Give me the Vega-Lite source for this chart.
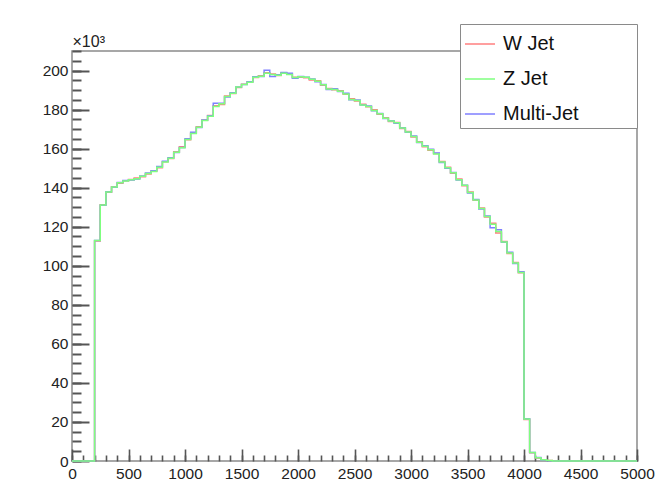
{
"$schema": "https://vega.github.io/schema/vega-lite/v6.json",
"width": 565, "height": 410,
"autosize": {"type": "none"},
"padding": {"left": 72, "top": 51, "right": 29, "bottom": 22},
"background": "white",
"config": {
  "font": "Liberation Sans",
  "view": {"stroke": "#8a8a8a", "strokeWidth": 1.5},
  "axis": {"grid": false, "labelFont": "Liberation Sans", "labelFontSize": 15.5, "labelColor": "#222"}
},
"data": {"values": [
{"x":0,"W":0,"Z":0,"M":0},{"x":50,"W":0,"Z":0,"M":0},{"x":100,"W":0,"Z":0,"M":0},{"x":150,"W":0,"Z":0,"M":0},
{"x":200,"W":112700,"Z":112900,"M":113000},
{"x":250,"W":131300,"Z":131100,"M":131000},
{"x":300,"W":137600,"Z":137800,"M":137900},
{"x":350,"W":140500,"Z":140300,"M":140200},
{"x":400,"W":142300,"Z":142500,"M":142700},
{"x":450,"W":143600,"Z":143400,"M":143700},
{"x":500,"W":144200,"Z":144000,"M":143900},
{"x":550,"W":144900,"Z":144600,"M":144500},
{"x":600,"W":145600,"Z":145800,"M":146000},
{"x":650,"W":147000,"Z":147200,"M":147500},
{"x":700,"W":148500,"Z":148300,"M":148700},
{"x":750,"W":150200,"Z":150500,"M":150900},
{"x":800,"W":153300,"Z":153100,"M":153500},
{"x":850,"W":154900,"Z":155100,"M":155300},
{"x":900,"W":158400,"Z":158200,"M":158000},
{"x":950,"W":160900,"Z":160400,"M":160600},
{"x":1000,"W":164500,"Z":164700,"M":165000},
{"x":1050,"W":167900,"Z":167800,"M":168400},
{"x":1100,"W":171200,"Z":171000,"M":170800},
{"x":1150,"W":174700,"Z":174400,"M":174600},
{"x":1200,"W":177000,"Z":176600,"M":176800},
{"x":1250,"W":182000,"Z":181600,"M":183200},
{"x":1300,"W":182600,"Z":183000,"M":183200},
{"x":1350,"W":186900,"Z":186700,"M":186500},
{"x":1400,"W":188200,"Z":188400,"M":188600},
{"x":1450,"W":191300,"Z":191500,"M":191600},
{"x":1500,"W":193000,"Z":192800,"M":192900},
{"x":1550,"W":194200,"Z":194000,"M":194300},
{"x":1600,"W":196400,"Z":196600,"M":196800},
{"x":1650,"W":197300,"Z":197100,"M":197000},
{"x":1700,"W":198800,"Z":198600,"M":200200},
{"x":1750,"W":198200,"Z":198000,"M":197000},
{"x":1800,"W":197400,"Z":197600,"M":197800},
{"x":1850,"W":198900,"Z":198600,"M":199000},
{"x":1900,"W":198200,"Z":198000,"M":198600},
{"x":1950,"W":196500,"Z":196400,"M":196000},
{"x":2000,"W":196600,"Z":196800,"M":196900},
{"x":2050,"W":196300,"Z":196500,"M":196600},
{"x":2100,"W":195200,"Z":195500,"M":195700},
{"x":2150,"W":194700,"Z":194500,"M":194300},
{"x":2200,"W":192400,"Z":192700,"M":192900},
{"x":2250,"W":190800,"Z":190600,"M":190300},
{"x":2300,"W":190100,"Z":190300,"M":190700},
{"x":2350,"W":189600,"Z":189400,"M":189200},
{"x":2400,"W":187800,"Z":188000,"M":188300},
{"x":2450,"W":185500,"Z":185200,"M":185000},
{"x":2500,"W":184400,"Z":184700,"M":184900},
{"x":2550,"W":182700,"Z":182400,"M":182300},
{"x":2600,"W":181400,"Z":181600,"M":181800},
{"x":2650,"W":179900,"Z":179500,"M":179400},
{"x":2700,"W":177600,"Z":177800,"M":178000},
{"x":2750,"W":175800,"Z":175600,"M":175400},
{"x":2800,"W":173900,"Z":174100,"M":174300},
{"x":2850,"W":173400,"Z":173200,"M":173000},
{"x":2900,"W":170300,"Z":170500,"M":170700},
{"x":2950,"W":168800,"Z":168500,"M":168400},
{"x":3000,"W":166000,"Z":166200,"M":166400},
{"x":3050,"W":163500,"Z":163300,"M":163100},
{"x":3100,"W":161000,"Z":161200,"M":161500},
{"x":3150,"W":159200,"Z":159400,"M":159700},
{"x":3200,"W":157500,"Z":157200,"M":157800},
{"x":3250,"W":153400,"Z":153100,"M":152900},
{"x":3300,"W":150500,"Z":150200,"M":150000},
{"x":3350,"W":147400,"Z":147600,"M":147800},
{"x":3400,"W":144400,"Z":144100,"M":143900},
{"x":3450,"W":141000,"Z":141200,"M":141300},
{"x":3500,"W":137800,"Z":137500,"M":137300},
{"x":3550,"W":133500,"Z":133700,"M":134000},
{"x":3600,"W":129600,"Z":129300,"M":129100},
{"x":3650,"W":125000,"Z":125200,"M":125500},
{"x":3700,"W":121800,"Z":121200,"M":119500},
{"x":3750,"W":116800,"Z":117500,"M":118500},
{"x":3800,"W":112400,"Z":112200,"M":112000},
{"x":3850,"W":106300,"Z":106500,"M":106900},
{"x":3900,"W":101700,"Z":101400,"M":101200},
{"x":3950,"W":96400,"Z":96600,"M":96900},
{"x":4000,"W":21300,"Z":21500,"M":21600},
{"x":4050,"W":4200,"Z":4300,"M":4400},
{"x":4100,"W":1600,"Z":1700,"M":1800},
{"x":4150,"W":650,"Z":600,"M":550},
{"x":4200,"W":250,"Z":200,"M":180},
{"x":4250,"W":0,"Z":0,"M":0},{"x":4300,"W":0,"Z":0,"M":0},{"x":4350,"W":0,"Z":0,"M":0},{"x":4400,"W":0,"Z":0,"M":0},
{"x":4450,"W":0,"Z":0,"M":0},{"x":4500,"W":0,"Z":0,"M":0},{"x":4550,"W":0,"Z":0,"M":0},{"x":4600,"W":0,"Z":0,"M":0},
{"x":4650,"W":0,"Z":0,"M":0},{"x":4700,"W":0,"Z":0,"M":0},{"x":4750,"W":0,"Z":0,"M":0},{"x":4800,"W":0,"Z":0,"M":0},
{"x":4850,"W":0,"Z":0,"M":0},{"x":4900,"W":0,"Z":0,"M":0},{"x":4950,"W":0,"Z":0,"M":0},{"x":5000,"W":0,"Z":0,"M":0}
]},
"layer": [
{
  "mark": {"type": "line", "interpolate": "step-after", "strokeWidth": 1.5},
  "encoding": {
    "x": {"field": "x", "type": "quantitative", "scale": {"domain": [0, 5000], "nice": false, "zero": false},
      "axis": {"orient": "bottom", "values": [0,500,1000,1500,2000,2500,3000,3500,4000,4500,5000], "domain": false, "ticks": true, "tickColor": "#555555", "tickWidth": 1.6, "tickSize": -12, "labelPadding": 17, "format": "d", "title": null, "labelFlush": false, "labelOverlap": false}},
    "y": {"field": "W", "type": "quantitative", "scale": {"domain": [0, 210000], "nice": false},
      "axis": {"orient": "left", "values": [0,20000,40000,60000,80000,100000,120000,140000,160000,180000,200000], "domain": false, "ticks": true, "tickColor": "#555555", "tickWidth": 2, "tickSize": -17, "labelPadding": 21, "labelExpr": "format(datum.value/1000, 'd')", "labelOverlap": false,
        "title": "×10³", "titleAngle": 0, "titleX": 0, "titleY": -2, "titleAlign": "left", "titleBaseline": "bottom", "titleFontSize": 16, "titleFontWeight": "normal", "titleColor": "#222", "titleFont": "Liberation Sans"}},
    "color": {"datum": "W Jet", "type": "nominal", "scale": {"domain": ["W Jet", "Z Jet", "Multi-Jet"], "range": ["#ff7f7f", "#7fff7f", "#7f7fff"]},
      "legend": {"orient": "none", "legendX": 388, "legendY": -27, "title": " ", "titleOrient": "right", "titlePadding": 54, "symbolType": "stroke", "symbolSize": 900, "symbolStrokeWidth": 1.5, "labelFontSize": 20, "labelFont": "Liberation Sans", "labelColor": "#111", "labelOffset": 7, "rowPadding": 9, "padding": 4, "strokeColor": "#8a8a8a", "fillColor": "white", "cornerRadius": 0}}
  }
},
{
  "mark": {"type": "line", "interpolate": "step-after", "strokeWidth": 1.5},
  "encoding": {
    "x": {"field": "x", "type": "quantitative",
      "axis": {"orient": "bottom", "values": [0,100,200,300,400,500,600,700,800,900,1000,1100,1200,1300,1400,1500,1600,1700,1800,1900,2000,2100,2200,2300,2400,2500,2600,2700,2800,2900,3000,3100,3200,3300,3400,3500,3600,3700,3800,3900,4000,4100,4200,4300,4400,4500,4600,4700,4800,4900,5000], "domain": false, "ticks": true, "tickColor": "#555555", "tickWidth": 1.6, "tickSize": -6, "labels": false, "title": null}},
    "y": {"field": "M", "type": "quantitative",
      "axis": {"orient": "left", "values": [0,5000,10000,15000,20000,25000,30000,35000,40000,45000,50000,55000,60000,65000,70000,75000,80000,85000,90000,95000,100000,105000,110000,115000,120000,125000,130000,135000,140000,145000,150000,155000,160000,165000,170000,175000,180000,185000,190000,195000,200000,205000,210000], "domain": false, "ticks": true, "tickColor": "#555555", "tickWidth": 2, "tickSize": -9, "labels": false, "title": null}},
    "color": {"datum": "Multi-Jet", "type": "nominal",
      "legend": {"orient": "none", "legendX": 388, "legendY": -27, "title": " ", "titleOrient": "right", "titlePadding": 54, "symbolType": "stroke", "symbolSize": 900, "symbolStrokeWidth": 1.5, "labelFontSize": 20, "labelFont": "Liberation Sans", "labelColor": "#111", "labelOffset": 7, "rowPadding": 9, "padding": 4, "strokeColor": "#8a8a8a", "fillColor": "white", "cornerRadius": 0}}
  }
},
{
  "mark": {"type": "line", "interpolate": "step-after", "strokeWidth": 1.5},
  "encoding": {
    "x": {"field": "x", "type": "quantitative", "axis": null},
    "y": {"field": "Z", "type": "quantitative", "axis": null},
    "color": {"datum": "Z Jet", "type": "nominal",
      "legend": {"orient": "none", "legendX": 388, "legendY": -27, "title": " ", "titleOrient": "right", "titlePadding": 54, "symbolType": "stroke", "symbolSize": 900, "symbolStrokeWidth": 1.5, "labelFontSize": 20, "labelFont": "Liberation Sans", "labelColor": "#111", "labelOffset": 7, "rowPadding": 9, "padding": 4, "strokeColor": "#8a8a8a", "fillColor": "white", "cornerRadius": 0}}
  }
}
],
"resolve": {"axis": {"x": "independent", "y": "independent"}}
}
